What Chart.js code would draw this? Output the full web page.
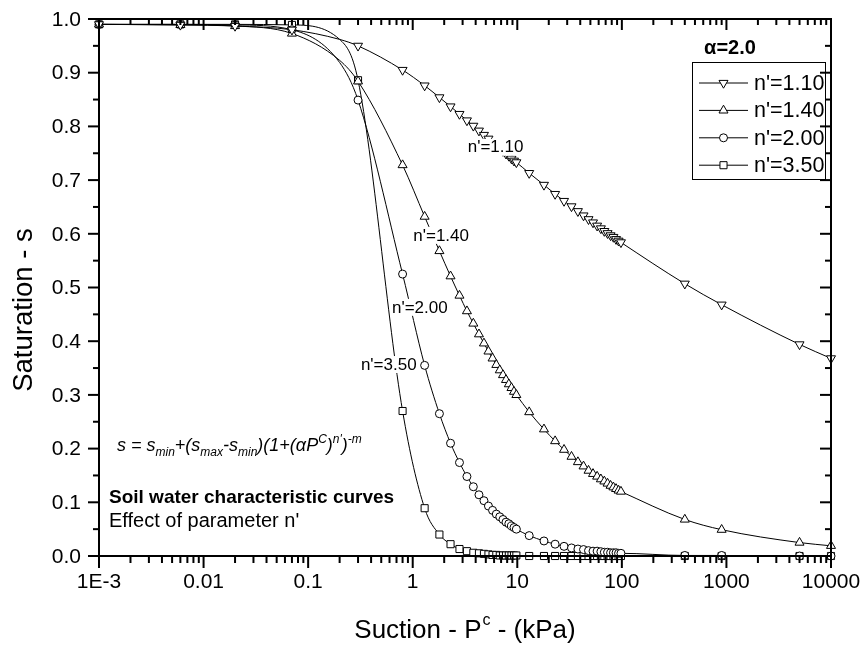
<!DOCTYPE html>
<html>
<head>
<meta charset="utf-8">
<script src="https://cdn.jsdelivr.net/npm/chart.js@4.4.1/dist/chart.umd.min.js"></script>
<style>
  body { margin: 0; background: #fff; }
  #wrap { width: 864px; height: 650px; }
</style>
</head>
<body>
<div id="wrap"><canvas id="chart" width="864" height="650"></canvas></div>
<script>
// suction values (kPa) where the curves were sampled
const suction = [0.001, 0.006, 0.02, 0.07, 0.2, 0.3,
  0.8, 1.3, 1.8, 2.3, 2.8, 3.3, 3.8, 4.3, 4.8, 5.3, 5.8, 6.3, 6.8, 7.3, 7.8, 8.3, 8.8, 9.3, 9.8,
  13, 18, 23, 28, 33, 38, 43, 48, 53, 58, 63, 68, 73, 78, 83, 88, 93, 98,
  400, 900, 5000, 10000];

// saturation
const sat110 = [0.990, 0.989, 0.987, 0.980, 0.962, 0.950,
  0.905, 0.876, 0.854, 0.837, 0.823, 0.811, 0.801, 0.792, 0.784, 0.777, 0.770, 0.764, 0.759, 0.754, 0.749, 0.745, 0.740, 0.736, 0.733,
  0.713, 0.691, 0.674, 0.661, 0.651, 0.642, 0.634, 0.627, 0.621, 0.615, 0.610, 0.605, 0.601, 0.597, 0.594, 0.590, 0.587, 0.584,
  0.507, 0.468, 0.394, 0.368];
const sat140 = [0.990, 0.989, 0.987, 0.973, 0.923, 0.884,
  0.728, 0.632, 0.568, 0.521, 0.485, 0.456, 0.433, 0.413, 0.396, 0.381, 0.368, 0.356, 0.346, 0.337, 0.328, 0.320, 0.313, 0.306, 0.300,
  0.268, 0.236, 0.214, 0.198, 0.185, 0.175, 0.167, 0.159, 0.153, 0.148, 0.143, 0.139, 0.135, 0.131, 0.128, 0.125, 0.122, 0.120,
  0.068, 0.049, 0.025, 0.019];
const sat200 = [0.990, 0.990, 0.989, 0.980, 0.919, 0.849,
  0.525, 0.355, 0.265, 0.210, 0.174, 0.148, 0.129, 0.114, 0.103, 0.093, 0.085, 0.078, 0.073, 0.068, 0.063, 0.060, 0.056, 0.053, 0.050,
  0.038, 0.028, 0.022, 0.018, 0.015, 0.013, 0.012, 0.010, 0.009, 0.009, 0.008, 0.007, 0.007, 0.006, 0.006, 0.006, 0.005, 0.005,
  0.001, 0.001, 0.000, 0.000];
const sat350 = [0.990, 0.990, 0.990, 0.989, 0.962, 0.886,
  0.270, 0.089, 0.040, 0.022, 0.013, 0.009, 0.006, 0.005, 0.004, 0.003, 0.002, 0.002, 0.001, 0.001, 0.001, 0.001, 0.001, 0.001, 0.001,
  0.000, 0.000, 0.000, 0.000, 0.000, 0.000, 0.000, 0.000, 0.000, 0.000, 0.000, 0.000, 0.000, 0.000, 0.000, 0.000, 0.000, 0.000,
  0.000, 0.000, 0.000, 0.000];

const seriesNames = ["n'=1.10", "n'=1.40", "n'=2.00", "n'=3.50"];
const noMarkerAt = [0.2];

const xMajor = [0.001, 0.01, 0.1, 1, 10, 100, 1000, 10000];
const xMajorLabels = ['1E-3', '0.01', '0.1', '1', '10', '100', '1000', '10000'];
const yMajor = [0, 0.1, 0.2, 0.3, 0.4, 0.5, 0.6, 0.7, 0.8, 0.9, 1.0];
const yMajorLabels = ['0.0', '0.1', '0.2', '0.3', '0.4', '0.5', '0.6', '0.7', '0.8', '0.9', '1.0'];

// where the curve names sit (data coords)
const curveLabels = [
  { text: "n'=1.10", x: 6.2, y: 0.762 },
  { text: "n'=1.40", x: 1.87, y: 0.598 },
  { text: "n'=2.00", x: 1.17, y: 0.464 },
  { text: "n'=3.50", x: 0.59, y: 0.3575 }
];

const FONT = '"Liberation Sans", Arial, Helvetica, sans-serif';

const xMinor = [];
for (let e = -3; e < 4; e++) for (let k = 2; k < 10; k++) xMinor.push(k * Math.pow(10, e));
const yMinor = [];
for (let i = 0; i < 10; i++) yMinor.push(i / 10 + 0.05);

function makeSet(label, ys, style, rot, r) {
  return {
    label: label,
    data: suction.map((x, i) => ({ x: x, y: ys[i] })),
    borderColor: '#000',
    borderWidth: 1,
    backgroundColor: '#fff',
    pointStyle: style,
    pointRotation: rot,
    pointRadius: c => noMarkerAt.includes(suction[c.dataIndex]) ? 0 : r,
    pointBorderWidth: 1,
    pointBorderColor: '#000',
    pointBackgroundColor: '#fff',
    cubicInterpolationMode: 'monotone',
    clip: false
  };
}

function line(ctx, x1, y1, x2, y2) {
  ctx.beginPath(); ctx.moveTo(x1, y1); ctx.lineTo(x2, y2); ctx.stroke();
}

// draw runs of text: [text, 0 normal | 1 subscript | 2 superscript]
function richText(ctx, parts, x, y, size, small) {
  parts.forEach(p => {
    const sz = p[1] ? small : size;
    const dy = p[1] === 1 ? 5 : (p[1] === 2 ? -8 : 0);
    ctx.font = 'italic ' + sz + 'px ' + FONT;
    ctx.fillText(p[0], x, y + dy);
    x += ctx.measureText(p[0]).width;
  });
}

const decor = {
  id: 'decor',
  afterDatasetsDraw(chart) {
    const { ctx, chartArea: a, scales: { x, y } } = chart;
    ctx.save();
    ctx.fillStyle = '#000';
    ctx.strokeStyle = '#000';

    // curve names on white patches
    ctx.font = '17px ' + FONT;
    ctx.textAlign = 'center';
    ctx.textBaseline = 'middle';
    curveLabels.forEach(l => {
      const px = x.getPixelForValue(l.x), py = y.getPixelForValue(l.y);
      const w = ctx.measureText(l.text).width;
      ctx.fillStyle = '#fff';
      ctx.fillRect(px - w / 2 - 1, py - 8, w + 2, 17);
      ctx.fillStyle = '#000';
      ctx.fillText(l.text, px, py + 1);
    });

    // frame
    ctx.lineWidth = 2;
    ctx.strokeRect(a.left, a.top, a.right - a.left, a.bottom - a.top);

    // ticks: out on bottom/left, in on top/right
    ctx.lineWidth = 2;
    xMajor.forEach(v => {
      const p = x.getPixelForValue(v);
      line(ctx, p, a.bottom, p, a.bottom + 12);
      line(ctx, p, a.top, p, a.top + 11);
    });
    xMinor.forEach(v => {
      const p = x.getPixelForValue(v);
      line(ctx, p, a.bottom, p, a.bottom + 7);
      line(ctx, p, a.top, p, a.top + 6);
    });
    yMajor.forEach(v => {
      const p = y.getPixelForValue(v);
      line(ctx, a.left - 11, p, a.left, p);
      line(ctx, a.right - 11, p, a.right, p);
    });
    yMinor.forEach(v => {
      const p = y.getPixelForValue(v);
      line(ctx, a.left - 6, p, a.left, p);
      line(ctx, a.right - 6, p, a.right, p);
    });

    // tick labels
    ctx.font = '21px ' + FONT;
    ctx.textAlign = 'center';
    ctx.textBaseline = 'middle';
    xMajor.forEach((v, i) => ctx.fillText(xMajorLabels[i], x.getPixelForValue(v), a.bottom + 26));
    ctx.textAlign = 'right';
    yMajor.forEach((v, i) => ctx.fillText(yMajorLabels[i], a.left - 18, y.getPixelForValue(v) + 1));

    // axis titles
    ctx.textBaseline = 'alphabetic';
    ctx.textAlign = 'left';
    ctx.font = '26px ' + FONT;
    const t1 = 'Suction - P', t2 = ' - (kPa)';
    ctx.font = '26px ' + FONT; const w1 = ctx.measureText(t1).width, w3 = ctx.measureText(t2).width;
    ctx.font = '16px ' + FONT; const w2 = ctx.measureText('c').width + 1;
    let tx = 465 - (w1 + w2 + w3) / 2;
    ctx.font = '26px ' + FONT; ctx.fillText(t1, tx, 638);
    ctx.font = '16px ' + FONT; ctx.fillText('c', tx + w1 + 1, 625);
    ctx.font = '26px ' + FONT; ctx.fillText(t2, tx + w1 + w2, 638);

    ctx.save();
    ctx.translate(32, 310);
    ctx.rotate(-Math.PI / 2);
    ctx.textAlign = 'center';
    ctx.font = '27.5px ' + FONT;
    ctx.fillText('Saturation - s', 0, 0);
    ctx.restore();

    // formula and notes
    ctx.textAlign = 'left';
    richText(ctx, [['s = s', 0], ['min', 1], ['+(s', 0], ['max', 1], ['-s', 0], ['min', 1],
      [')(1+(\u03B1P', 0], ['C', 2], [')', 0], ["n'", 2], [')', 0], ['-m', 2]], 117, 451, 18, 12);
    ctx.font = 'bold 19px ' + FONT;
    ctx.fillText('Soil water characteristic curves', 109, 503);
    ctx.font = '20px ' + FONT;
    ctx.fillText("Effect of parameter n'", 109, 527);

    ctx.font = 'bold 20px ' + FONT;
    ctx.textAlign = 'center';
    ctx.fillText('\u03B1=2.0', 730, 54);

    // legend
    ctx.lineWidth = 1;
    ctx.strokeRect(692.5, 62.5, 133, 117);
    ctx.font = '21.5px ' + FONT;
    ctx.textAlign = 'left';
    ctx.textBaseline = 'middle';
    chart.data.datasets.forEach((d, i) => {
      const ly = 83 + i * 27.4;
      ctx.strokeStyle = '#000';
      line(ctx, 699, ly, 748, ly);
      ctx.fillStyle = '#fff';
      Chart.helpers.drawPoint(ctx, { pointStyle: d.pointStyle, radius: d.legendRadius, rotation: d.pointRotation, borderWidth: 1 }, 723.5, ly);
      ctx.fillStyle = '#000';
      ctx.fillText(d.label, 754, ly + 1);
    });
    ctx.restore();
  }
};

const sets = [
  makeSet(seriesNames[0], sat110, 'triangle', 180, 5.2),
  makeSet(seriesNames[1], sat140, 'triangle', 0, 5.2),
  makeSet(seriesNames[2], sat200, 'circle', 0, 4),
  makeSet(seriesNames[3], sat350, 'rect', 0, 5)
];
sets[0].legendRadius = 5.2; sets[1].legendRadius = 5.2; sets[2].legendRadius = 4; sets[3].legendRadius = 5;

new Chart(document.getElementById('chart'), {
  type: 'line',
  data: { datasets: sets },
  options: {
    responsive: false,
    animation: false,
    devicePixelRatio: 1,
    layout: { padding: { left: 99, top: 19, right: 33, bottom: 94 } },
    plugins: { legend: { display: false }, tooltip: { enabled: false } },
    scales: {
      x: {
        type: 'logarithmic', min: 0.001, max: 10000,
        ticks: { display: false }, grid: { display: false }, border: { display: false },
        afterFit: s => { s.height = 0; }
      },
      y: {
        type: 'linear', min: 0, max: 1,
        ticks: { display: false }, grid: { display: false }, border: { display: false },
        afterFit: s => { s.width = 0; }
      }
    }
  },
  plugins: [decor]
});
</script>
</body>
</html>
